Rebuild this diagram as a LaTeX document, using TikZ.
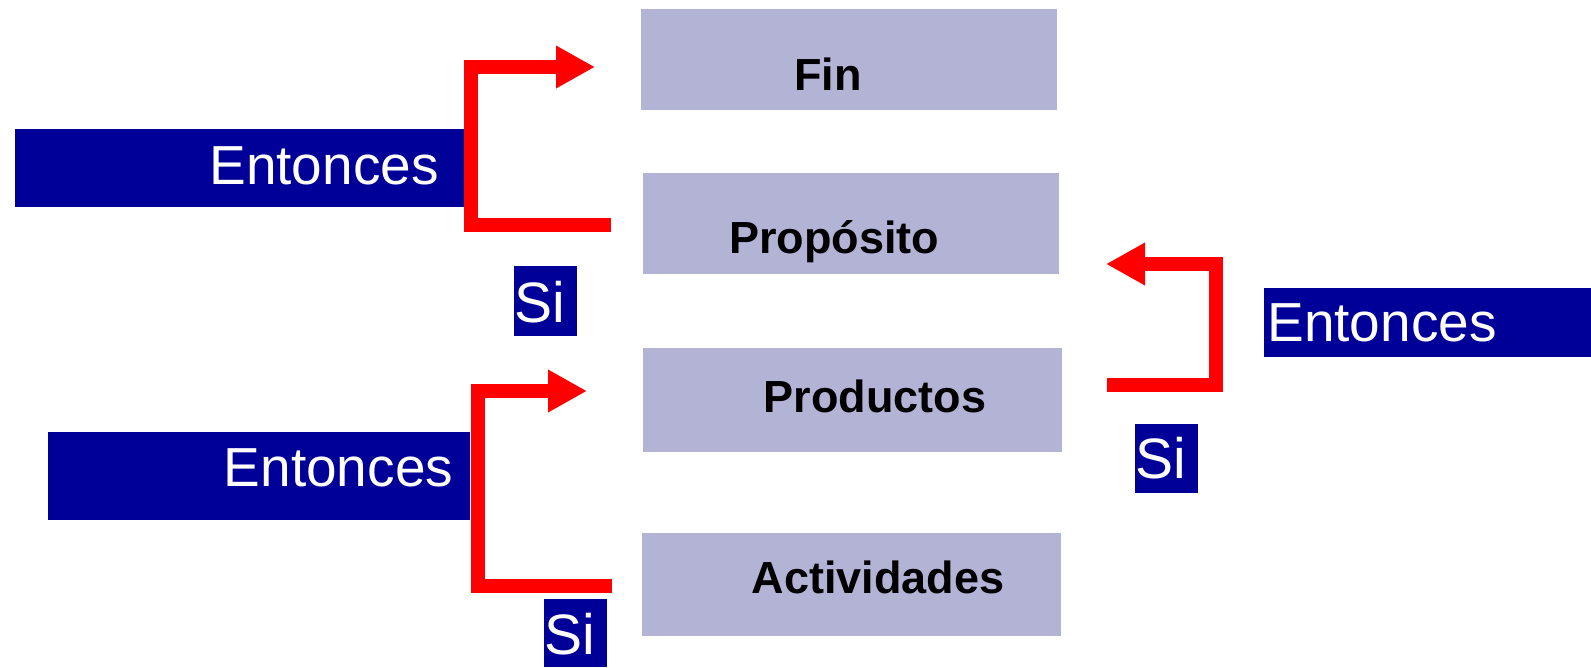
\documentclass[tikz,border=0pt]{standalone}
\usepackage{fontspec}
\setmainfont{Liberation Sans}
\usetikzlibrary{arrows.meta}
\definecolor{lav}{RGB}{179,179,214}
\definecolor{dblue}{RGB}{0,0,153}
\definecolor{ared}{RGB}{255,0,0}
\tikzset{
  levelbox/.style={fill=lav,draw=none,inner sep=0pt,anchor=north west},
  bluebox/.style={fill=dblue,draw=none,inner sep=0pt,anchor=north west},
  leveltxt/.style={anchor=base,inner sep=0pt,font=\fontsize{45}{50}\selectfont\bfseries,text=black},
  enttxt/.style={anchor=base,inner sep=0pt,font=\fontsize{55}{60}\selectfont,text=white},
  sitxt/.style={anchor=base,inner sep=0pt,font=\fontsize{57}{62}\selectfont,text=white},
  redarrow/.style={draw=ared,line width=14pt,line join=miter,-{Triangle[length=39pt,width=40pt]}}
}
\begin{document}
\begin{tikzpicture}[x=1pt,y=-1pt]
\useasboundingbox (0,0) rectangle (1591,667);
% level boxes
\node[levelbox,minimum width=416pt,minimum height=101pt] (fin) at (641,9) {};
\node[levelbox,minimum width=416pt,minimum height=101pt] (prop) at (643,173) {};
\node[levelbox,minimum width=419pt,minimum height=104pt] (prod) at (643,348) {};
\node[levelbox,minimum width=419pt,minimum height=103pt] (act) at (642,533) {};
\node[leveltxt] (fint) at (828,90) {Fin};
\node[leveltxt] (propt) at (834,253) {Propósito};
\node[leveltxt] (prodt) at (875,412) {Productos};
\node[leveltxt] (actt) at (878,593) {Actividades};
% blue boxes
\node[bluebox,minimum width=449pt,minimum height=78pt] (e1) at (15,129) {};
\node[bluebox,minimum width=422pt,minimum height=88pt] (e2) at (48,432) {};
\node[bluebox,minimum width=327pt,minimum height=69pt] (e3) at (1264,288) {};
\node[bluebox,minimum width=63pt,minimum height=70pt] (s1) at (514,266) {};
\node[bluebox,minimum width=63pt,minimum height=69pt] (s2) at (1135,424) {};
\node[bluebox,minimum width=63pt,minimum height=68pt] (s3) at (544,599) {};
\node[enttxt] (e1t) at (324,184) {Entonces};
\node[enttxt] (e2t) at (338.5,486) {Entonces};
\node[enttxt] (e3t) at (1382,341) {Entonces};
\node[sitxt] (s1t) at (539.5,322) {Si};
\node[sitxt] (s2t) at (1160.5,478) {Si};
\node[sitxt] (s3t) at (569.5,654) {Si};
% arrow coordinates
\coordinate (a1s) at (611,225);
\coordinate (a1c1) at (471,225);
\coordinate (a1c2) at (471,67);
\coordinate (a1e) at (595,67);
\coordinate (a2s) at (612,586);
\coordinate (a2c1) at (478,586);
\coordinate (a2c2) at (478,391);
\coordinate (a2e) at (587,391);
\coordinate (a3s) at (1107,385);
\coordinate (a3c1) at (1216,385);
\coordinate (a3c2) at (1216,264);
\coordinate (a3e) at (1106,264);
\draw[redarrow] (a1s) -- (a1c1) -- (a1c2) -- (a1e);
\draw[redarrow] (a2s) -- (a2c1) -- (a2c2) -- (a2e);
\draw[redarrow] (a3s) -- (a3c1) -- (a3c2) -- (a3e);
\end{tikzpicture}
\end{document}
